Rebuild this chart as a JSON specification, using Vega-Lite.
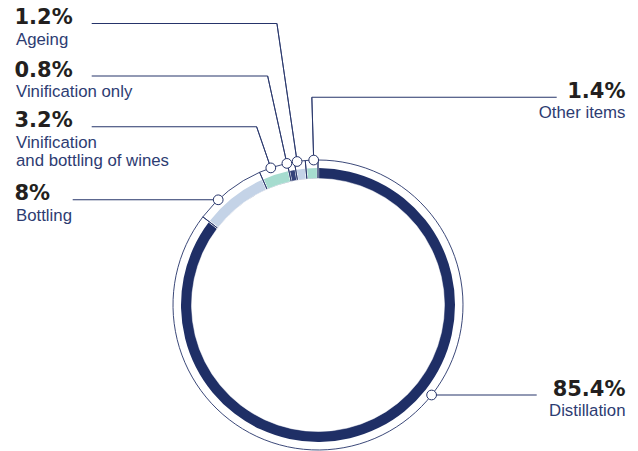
{
  "$schema": "https://vega.github.io/schema/vega-lite/v6.json",
  "width": 290,
  "height": 290,
  "autosize": {"type": "none"},
  "padding": {"left": 173, "top": 160, "right": 175, "bottom": 1},
  "background": "white",
  "config": {"view": {"stroke": null}},
  "data": {
    "values": [
      {"item": "Distillation", "share": 0.854, "rank": 1, "side": "right"},
      {"item": "Bottling", "share": 0.08, "rank": 2, "side": "left"},
      {"item": "Vinification\nand bottling of wines", "share": 0.032, "rank": 3, "side": "left"},
      {"item": "Vinification only", "share": 0.008, "rank": 4, "side": "left"},
      {"item": "Ageing", "share": 0.012, "rank": 5, "side": "left"},
      {"item": "Other items", "share": 0.014, "rank": 6, "side": "right"}
    ]
  },
  "layer": [
    {
      "mark": {"type": "arc", "radius": 137, "radius2": 126, "padAngle": 0.012},
      "encoding": {
        "theta": {"field": "share", "type": "quantitative", "stack": true},
        "order": {"field": "rank", "type": "quantitative"},
        "color": {
          "field": "item", "type": "nominal", "legend": null,
          "scale": {
            "domain": ["Distillation", "Bottling", "Vinification\nand bottling of wines", "Vinification only", "Ageing", "Other items"],
            "range": ["#1f2f66", "#c4d3e7", "#a6dccf", "#34427a", "#c4d3e7", "#a6dccf"]
          }
        }
      }
    },
    {
      "mark": {"type": "arc", "radius": 145, "radius2": 126, "filled": false, "stroke": "#26346a", "strokeWidth": 0.9},
      "encoding": {
        "theta": {"field": "share", "type": "quantitative", "stack": true},
        "order": {"field": "rank", "type": "quantitative"},
        "detail": {"field": "item", "type": "nominal"}
      }
    },
    {
      "mark": {"type": "arc", "radius": 126.5, "radius2": 100, "color": "white", "stroke": "white", "strokeWidth": 0.5},
      "encoding": {
        "theta": {"field": "share", "type": "quantitative", "stack": true},
        "order": {"field": "rank", "type": "quantitative"},
        "detail": {"field": "item", "type": "nominal"}
      }
    },
    {
      "transform": [{"filter": {"field": "rank", "gte": 3}}],
      "mark": {"type": "arc", "radius2": 145, "filled": false, "stroke": "#26346a", "strokeWidth": 0.9},
      "encoding": {
        "theta": {"field": "rank", "type": "quantitative", "stack": null,
          "scale": {"type": "linear", "domain": [3, 4, 5, 6], "range": [5.9516, 6.0668, 6.1383, 6.2535], "zero": false, "nice": false}},
        "theta2": {"field": "rank"},
        "radius": {"field": "rank", "type": "quantitative",
          "scale": {"type": "linear", "domain": [3, 4, 5, 6], "range": [188.6, 234.5, 284.5, 207.8], "zero": false, "nice": false}}
      }
    },
    {
      "mark": {"type": "tick", "orient": "horizontal", "thickness": 1, "color": "#26346a", "opacity": 1},
      "encoding": {
        "x": {"field": "rank", "type": "quantitative", "axis": null,
          "scale": {"domain": [1, 2, 3, 4, 5, 6], "range": [311.15, -27.55, 1.15, 6.675, 11.3, 261.27], "zero": false, "nice": false}},
        "y": {"field": "rank", "type": "quantitative", "axis": null,
          "scale": {"domain": [1, 2, 3, 4, 5, 6], "range": [235, 39.8, -33.3, -84, -136.5, -62.7], "zero": false, "nice": false}},
        "size": {"field": "rank", "type": "quantitative", "legend": null,
          "scale": {"type": "linear", "domain": [1, 2, 3, 4, 5, 6], "range": [105.1, 145.5, 164.9, 175.95, 185.2, 244.87], "zero": false, "nice": false}}
      }
    },
    {
      "mark": {"type": "point", "shape": "circle", "filled": true, "fill": "white", "stroke": "#26346a", "strokeWidth": 1, "size": 95, "opacity": 1},
      "encoding": {
        "x": {"field": "rank", "type": "quantitative", "axis": null,
          "scale": {"domain": [1, 2, 3, 4, 5, 6], "range": [258.6, 45.2, 97.8, 113.9, 124.1, 140.7], "zero": false, "nice": false}},
        "y": {"field": "rank", "type": "quantitative", "axis": null,
          "scale": {"domain": [1, 2, 3, 4, 5, 6], "range": [235, 39.8, 7.9, 3.4, 1.5, 0.06], "zero": false, "nice": false}}
      }
    },
    {
      "transform": [{"filter": {"field": "side", "equal": "left"}}],
      "mark": {"type": "text", "align": "left", "baseline": "alphabetic", "dx": -1.5, "dy": 0.5, "font": "DejaVu Sans", "fontWeight": "bold", "fontSize": 21, "color": "#231f20"},
      "encoding": {
        "x": {"field": "side", "type": "nominal", "axis": null,
          "scale": {"type": "point", "domain": ["left", "right"], "range": [-157, 452.5], "padding": 0}},
        "y": {"field": "rank", "type": "quantitative", "axis": null,
          "scale": {"domain": [1, 2, 3, 4, 5, 6], "range": [235, 39.8, -33.3, -84, -136.5, -62.7], "zero": false, "nice": false}},
        "text": {"field": "share", "type": "quantitative", "format": ".1~%"}
      }
    },
    {
      "transform": [{"filter": {"field": "side", "equal": "right"}}],
      "mark": {"type": "text", "align": "right", "baseline": "alphabetic", "dy": 0.5, "font": "DejaVu Sans", "fontWeight": "bold", "fontSize": 21, "color": "#231f20"},
      "encoding": {
        "x": {"field": "side", "type": "nominal", "axis": null,
          "scale": {"type": "point", "domain": ["left", "right"], "range": [-157, 452.5], "padding": 0}},
        "y": {"field": "rank", "type": "quantitative", "axis": null,
          "scale": {"domain": [1, 2, 3, 4, 5, 6], "range": [235, 39.8, -33.3, -84, -136.5, -62.7], "zero": false, "nice": false}},
        "text": {"field": "share", "type": "quantitative", "format": ".1~%"}
      }
    },
    {
      "transform": [{"filter": {"field": "side", "equal": "left"}}],
      "mark": {"type": "text", "align": "left", "baseline": "alphabetic", "dy": 21, "lineBreak": "\n", "lineHeight": 18, "font": "Liberation Sans", "fontSize": 16.8, "color": "#2d3c72"},
      "encoding": {
        "x": {"field": "side", "type": "nominal", "axis": null,
          "scale": {"type": "point", "domain": ["left", "right"], "range": [-157, 452.5], "padding": 0}},
        "y": {"field": "rank", "type": "quantitative", "axis": null,
          "scale": {"domain": [1, 2, 3, 4, 5, 6], "range": [235, 39.8, -33.3, -84, -136.5, -62.7], "zero": false, "nice": false}},
        "text": {"field": "item", "type": "nominal"}
      }
    },
    {
      "transform": [{"filter": {"field": "side", "equal": "right"}}],
      "mark": {"type": "text", "align": "right", "baseline": "alphabetic", "dy": 21, "font": "Liberation Sans", "fontSize": 16.8, "color": "#2d3c72"},
      "encoding": {
        "x": {"field": "side", "type": "nominal", "axis": null,
          "scale": {"type": "point", "domain": ["left", "right"], "range": [-157, 452.5], "padding": 0}},
        "y": {"field": "rank", "type": "quantitative", "axis": null,
          "scale": {"domain": [1, 2, 3, 4, 5, 6], "range": [235, 39.8, -33.3, -84, -136.5, -62.7], "zero": false, "nice": false}},
        "text": {"field": "item", "type": "nominal"}
      }
    }
  ],
  "resolve": {
    "scale": {"theta": "independent", "radius": "independent", "x": "independent", "y": "independent", "size": "independent", "color": "independent"}
  }
}
